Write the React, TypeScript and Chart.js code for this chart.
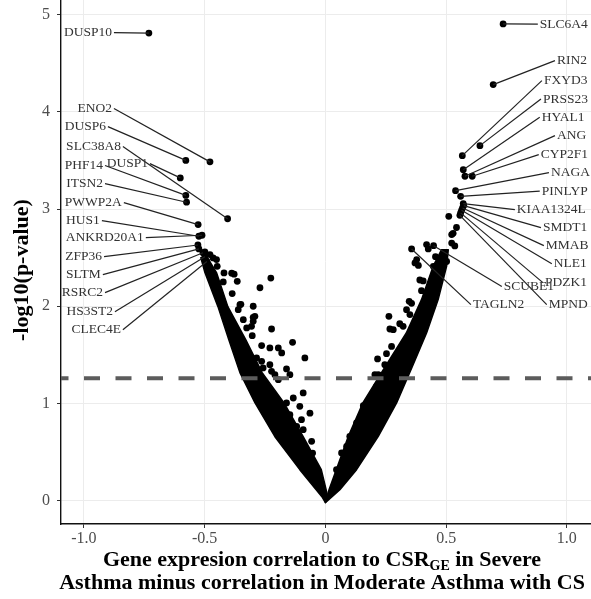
import { useEffect, useRef } from 'react';
import { Chart, registerables } from 'chart.js';

Chart.register(...registerables);

// ---------- axes ----------
const xMin = -1.095;
const xMax = 1.1;
const yMin = -0.24;
const yMax = 5.15;
const xTicks = [-1, -0.5, 0, 0.5, 1];
const xTickLabels = ['-1.0', '-0.5', '0', '0.5', '1.0'];
const yTicks = [0, 1, 2, 3, 4, 5];
const yTickLabels = ['0', '1', '2', '3', '4', '5'];
const threshold = 1.26;

// ---------- labelled genes (negative side) ----------
const leftGenes = ['DUSP10', 'ENO2', 'DUSP6', 'SLC38A8', 'DUSP1', 'PHF14', 'ITSN2', 'PWWP2A', 'HUS1', 'ANKRD20A1', 'ZFP36', 'SLTM', 'RSRC2', 'HS3ST2', 'CLEC4E'];
const leftGeneX = [-0.731, -0.478, -0.578, -0.405, -0.601, -0.578, -0.575, -0.527, -0.524, -0.511, -0.528, -0.524, -0.507, -0.499, -0.491];
const leftGeneY = [4.81, 3.485, 3.5, 2.9, 3.32, 3.14, 3.07, 2.84, 2.72, 2.73, 2.63, 2.59, 2.55, 2.51, 2.46];
// label anchors (data units, right end of text)
const leftLabelX = [-0.884, -0.884, -0.909, -0.847, -0.735, -0.921, -0.921, -0.843, -0.934, -0.752, -0.925, -0.93, -0.921, -0.88, -0.847];
const leftLabelY = [4.815, 4.033, 3.848, 3.642, 3.467, 3.447, 3.261, 3.066, 2.881, 2.706, 2.51, 2.325, 2.14, 1.944, 1.759];

// ---------- labelled genes (positive side) ----------
const rightGenes = ['SLC6A4', 'RIN2', 'FXYD3', 'PRSS23', 'HYAL1', 'ANG', 'CYP2F1', 'NAGA', 'PINLYP', 'KIAA1324L', 'SMDT1', 'MMAB', 'NLE1', 'PDZK1', 'MPND', 'SCUBE1', 'TAGLN2'];
const rightGeneX = [0.736, 0.695, 0.567, 0.64, 0.571, 0.578, 0.608, 0.539, 0.56, 0.571, 0.573, 0.568, 0.564, 0.56, 0.557, 0.448, 0.357];
const rightGeneY = [4.904, 4.28, 3.549, 3.652, 3.405, 3.337, 3.337, 3.189, 3.131, 3.056, 3.035, 3.011, 2.987, 2.96, 2.935, 2.623, 2.589];
// label anchors (data units, left start of text)
const rightLabelX = [0.888, 0.959, 0.905, 0.901, 0.896, 0.959, 0.892, 0.934, 0.896, 0.793, 0.901, 0.913, 0.946, 0.909, 0.925, 0.739, 0.611];
const rightLabelY = [4.902, 4.527, 4.321, 4.131, 3.945, 3.755, 3.56, 3.374, 3.184, 2.994, 2.809, 2.623, 2.438, 2.243, 2.016, 2.202, 2.016];

// ---------- unlabelled genes outside the dense body ----------
const leftScatter: number[][] = [
  [-0.499, 2.559], [-0.478, 2.531], [-0.465, 2.497], [-0.451, 2.48], [-0.448, 2.41], [-0.42, 2.343],
  [-0.388, 2.34], [-0.378, 2.33], [-0.365, 2.256], [-0.423, 2.25], [-0.226, 2.29], [-0.271, 2.19],
  [-0.386, 2.13], [-0.354, 2.016], [-0.35, 2.02], [-0.299, 2.0], [-0.361, 1.965], [-0.299, 1.886],
  [-0.292, 1.896], [-0.34, 1.862], [-0.299, 1.845], [-0.306, 1.793], [-0.326, 1.777], [-0.223, 1.766],
  [-0.303, 1.697], [-0.136, 1.629], [-0.264, 1.595], [-0.23, 1.571], [-0.195, 1.571], [-0.181, 1.52],
  [-0.085, 1.468], [-0.285, 1.468], [-0.264, 1.433], [-0.23, 1.399], [-0.258, 1.365], [-0.161, 1.355],
  [-0.223, 1.33], [-0.209, 1.296], [-0.147, 1.296], [-0.195, 1.245], [-0.092, 1.108], [-0.133, 1.056],
  [-0.161, 1.005], [-0.106, 0.97], [-0.064, 0.9], [-0.147, 0.885], [-0.099, 0.833], [-0.119, 0.764],
  [-0.092, 0.73], [-0.119, 0.661], [-0.057, 0.61], [-0.078, 0.507], [-0.092, 0.42], [-0.078, 0.353],
  [-0.053, 0.49], [-0.243, 1.142], [-0.216, 1.073], [-0.175, 0.936], [-0.181, 0.833], [-0.147, 0.696],
  [-0.133, 0.559], [-0.106, 0.456], [-0.071, 0.285], [-0.05, 0.216],
];
const rightScatter: number[][] = [
  [0.419, 2.634], [0.426, 2.59], [0.378, 2.48], [0.456, 2.51], [0.385, 2.42], [0.371, 2.445],
  [0.447, 2.41], [0.391, 2.27], [0.405, 2.26], [0.398, 2.16], [0.453, 2.33], [0.502, 2.46],
  [0.511, 2.925], [0.543, 2.81], [0.529, 2.75], [0.523, 2.737], [0.523, 2.65], [0.536, 2.62],
  [0.347, 2.05], [0.357, 2.03], [0.336, 1.965], [0.35, 1.914], [0.263, 1.896], [0.308, 1.82],
  [0.267, 1.766], [0.281, 1.759], [0.322, 1.793], [0.274, 1.587], [0.253, 1.512], [0.216, 1.458],
  [0.246, 1.399], [0.219, 1.296], [0.205, 1.296], [0.177, 1.005], [0.157, 0.977], [0.129, 0.8],
  [0.088, 0.559], [0.074, 0.388], [0.143, 0.833], [0.101, 0.662], [0.067, 0.491], [0.046, 0.319],
  [0.191, 1.039], [0.212, 1.176], [0.226, 1.245],
];

// ---------- outline of the dense (overplotted) body of genes ----------
const leftBody: number[][] = [
  [0, -0.02], [-0.0145, 0.041], [-0.106, 0.319], [-0.209, 0.658], [-0.292, 1.008], [-0.354, 1.317],
  [-0.4, 1.656], [-0.445, 1.996], [-0.499, 2.346], [-0.516, 2.5],
  [-0.491, 2.51], [-0.451, 2.346], [-0.404, 1.996], [-0.33, 1.656], [-0.262, 1.317], [-0.172, 1.008],
  [-0.092, 0.658], [-0.017, 0.319], [0.01, 0.041],
];
const rightBody: number[][] = [
  [0, -0.02], [0.06, 0.113], [0.129, 0.319], [0.219, 0.662], [0.295, 1.005], [0.358, 1.368],
  [0.419, 1.725], [0.467, 2.068], [0.502, 2.41], [0.509, 2.582],
  [0.481, 2.582], [0.446, 2.41], [0.398, 2.068], [0.335, 1.725], [0.245, 1.368], [0.155, 1.005],
  [0.095, 0.662], [0.045, 0.319], [0.015, 0.113],
];

const SERIF = "'Liberation Serif', 'Times New Roman', serif";

const bodyPlugin = {
  id: 'denseBody',
  beforeDatasetsDraw(chart: any) {
    const { ctx, chartArea, scales } = chart;
    ctx.save();
    ctx.beginPath();
    ctx.rect(chartArea.left, chartArea.top, chartArea.right - chartArea.left, chartArea.bottom - chartArea.top);
    ctx.clip();
    ctx.fillStyle = '#000';
    ctx.strokeStyle = '#000';
    ctx.lineWidth = 1.5;
    ctx.lineJoin = 'round';
    for (const poly of [leftBody, rightBody]) {
      ctx.beginPath();
      poly.forEach((p, i) => {
        const px = scales.x.getPixelForValue(p[0]);
        const py = scales.y.getPixelForValue(p[1]);
        if (i === 0) ctx.moveTo(px, py);
        else ctx.lineTo(px, py);
      });
      ctx.closePath();
      ctx.fill();
      ctx.stroke();
    }
    ctx.restore();
  },
};

const labelPlugin = {
  id: 'geneLabels',
  afterDatasetsDraw(chart: any) {
    const { ctx, scales } = chart;
    const X = (v: number) => scales.x.getPixelForValue(v);
    const Y = (v: number) => scales.y.getPixelForValue(v);
    ctx.save();
    ctx.strokeStyle = '#222';
    ctx.lineWidth = 1.2;
    leftGenes.forEach((_, i) => {
      ctx.beginPath();
      ctx.moveTo(X(leftLabelX[i]) + 2, Y(leftLabelY[i]));
      ctx.lineTo(X(leftGeneX[i]), Y(leftGeneY[i]));
      ctx.stroke();
    });
    rightGenes.forEach((_, i) => {
      ctx.beginPath();
      ctx.moveTo(X(rightLabelX[i]) - 2, Y(rightLabelY[i]));
      ctx.lineTo(X(rightGeneX[i]), Y(rightGeneY[i]));
      ctx.stroke();
    });
    ctx.font = `13.5px ${SERIF}`;
    ctx.fillStyle = '#333';
    ctx.textBaseline = 'middle';
    ctx.textAlign = 'right';
    leftGenes.forEach((g, i) => ctx.fillText(g, X(leftLabelX[i]), Y(leftLabelY[i])));
    ctx.textAlign = 'left';
    rightGenes.forEach((g, i) => ctx.fillText(g, X(rightLabelX[i]), Y(rightLabelY[i])));
    ctx.restore();
  },
};

const titlePlugin = {
  id: 'axisTitles',
  afterDraw(chart: any) {
    const { ctx, chartArea } = chart;
    ctx.save();
    ctx.fillStyle = '#000';
    ctx.textBaseline = 'middle';
    // y title
    ctx.font = `bold 22px ${SERIF}`;
    ctx.translate(22, 270);
    ctx.rotate(-Math.PI / 2);
    ctx.textAlign = 'center';
    ctx.fillText('-log10(p-value)', 0, 0);
    ctx.setTransform(1, 0, 0, 1, 0, 0);
    // x title
    const cx = (chartArea.left + chartArea.right) / 2 - 4;
    const big = `bold 22px ${SERIF}`;
    const small = `bold 14px ${SERIF}`;
    const a = 'Gene expresion correlation to CSR';
    const sub = 'GE';
    const b = ' in Severe';
    ctx.font = big;
    const wa = ctx.measureText(a).width;
    const wb = ctx.measureText(b).width;
    ctx.font = small;
    const ws = ctx.measureText(sub).width;
    let x0 = cx - (wa + ws + wb) / 2;
    const y1 = 560;
    ctx.textAlign = 'left';
    ctx.font = big;
    ctx.fillText(a, x0, y1);
    x0 += wa;
    ctx.font = small;
    ctx.fillText(sub, x0, y1 + 6);
    x0 += ws;
    ctx.font = big;
    ctx.fillText(b, x0, y1);
    ctx.textAlign = 'center';
    ctx.fillText('Asthma minus correlation in Moderate Asthma with CS', cx, 583);
    ctx.restore();
  },
};

const zeroPadding = (s: any) => {
  s.paddingTop = 0;
  s.paddingBottom = 0;
  s.paddingLeft = 0;
  s.paddingRight = 0;
};

export default function App() {
  const ref = useRef<HTMLCanvasElement | null>(null);
  useEffect(() => {
    if (!ref.current) return;
    const pts = (xs: number[], ys: number[]) => xs.map((x, i) => ({ x, y: ys[i] }));
    const chart = new Chart(ref.current, {
      type: 'scatter',
      data: {
        datasets: [
          {
            type: 'line',
            label: 'threshold',
            data: [{ x: xMin, y: threshold }, { x: xMax, y: threshold }],
            borderColor: '#5c5c5c',
            borderWidth: 4,
            borderDash: [16, 15.5],
            borderDashOffset: 8.5,
            pointRadius: 0,
            fill: false,
            order: 0,
          } as any,
          {
            label: 'labelled',
            data: [...pts(leftGeneX, leftGeneY), ...pts(rightGeneX, rightGeneY)],
            backgroundColor: '#000',
            borderWidth: 0,
            pointRadius: 3.4,
            order: 1,
          },
          {
            label: 'others',
            data: [...leftScatter, ...rightScatter].map((p) => ({ x: p[0], y: p[1] })),
            backgroundColor: '#000',
            borderWidth: 0,
            pointRadius: 3.4,
            order: 2,
          },
        ],
      },
      options: {
        responsive: false,
        animation: false,
        devicePixelRatio: 1,
        layout: { padding: 0, autoPadding: false },
        plugins: { legend: { display: false }, tooltip: { enabled: false } },
        scales: {
          x: {
            type: 'linear',
            min: xMin,
            max: xMax,
            afterBuildTicks: (s: any) => {
              s.ticks = xTicks.map((v) => ({ value: v }));
            },
            afterFit: (s: any) => {
              s.height = 75;
              zeroPadding(s);
            },
            ticks: {
              autoSkip: false,
              maxRotation: 0,
              padding: 1,
              color: '#4d4d4d',
              font: { family: SERIF, size: 16 },
              callback: (_v: any, i: number) => xTickLabels[i],
            },
            grid: { color: '#ececec', lineWidth: 1, tickLength: 4, tickColor: '#333' },
            border: { display: true, color: '#111', width: 1.4 },
          },
          y: {
            type: 'linear',
            min: yMin,
            max: yMax,
            afterBuildTicks: (s: any) => {
              s.ticks = yTicks.map((v) => ({ value: v }));
            },
            afterFit: (s: any) => {
              s.width = 61;
              zeroPadding(s);
            },
            ticks: {
              autoSkip: false,
              padding: 7,
              color: '#4d4d4d',
              font: { family: SERIF, size: 16 },
              callback: (_v: any, i: number) => yTickLabels[i],
            },
            grid: { color: '#ececec', lineWidth: 1, tickLength: 4, tickColor: '#333' },
            border: { display: true, color: '#111', width: 1.4 },
          },
        },
      },
      plugins: [bodyPlugin, labelPlugin, titlePlugin],
    });
    return () => chart.destroy();
  }, []);
  return (
    <div style={{ position: 'absolute', left: 0, top: 0, width: 591, height: 599, background: '#fff' }}>
      <canvas ref={ref} width={591} height={599} />
    </div>
  );
}
